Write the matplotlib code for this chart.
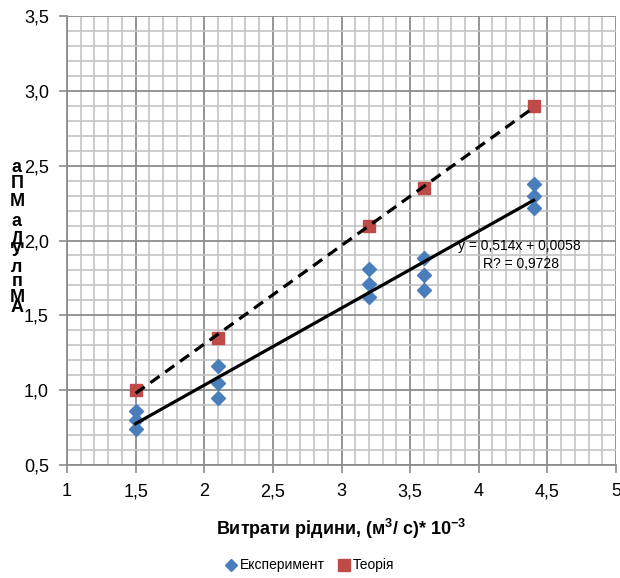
import numpy as np
import matplotlib
matplotlib.use("Agg")
import matplotlib.pyplot as plt
from matplotlib.ticker import MultipleLocator, FuncFormatter

plt.rcParams['font.family'] = ['Liberation Sans', 'DejaVu Sans']
plt.rcParams['mathtext.fontset'] = 'custom'
plt.rcParams['mathtext.rm'] = 'Liberation Sans'
plt.rcParams['mathtext.bf'] = 'Liberation Sans:bold'

# experiment: three readings at each flow rate
exp_x = [1.5, 1.5, 1.5, 2.1, 2.1, 2.1, 3.2, 3.2, 3.2, 3.6, 3.6, 3.6, 4.4, 4.4, 4.4]
exp_y = [0.86, 0.80, 0.74, 1.16, 1.05, 0.945, 1.81, 1.71, 1.62, 1.88, 1.77, 1.67, 2.38, 2.30, 2.22]

# theory
th_x = [1.5, 2.1, 3.2, 3.6, 4.4]
th_y = [1.0, 1.35, 2.1, 2.35, 2.9]

eq_text = "y = 0,514x + 0,0058"
r2_text = "R? = 0,9728"
ylabel_chars = ["а", "П", "М", "а", "Д", "у", "'", "л", "п", "М", "А"]
ylabel_ypx = [167, 183, 202, 222, 240, 248, 257, 268, 281, 297, 307]

fig = plt.figure(figsize=(6.2, 5.78), dpi=100)
ax = fig.add_axes([67/620, 1 - 465/578, (616 - 67)/620, (465 - 16)/578])

ax.set_xlim(1, 5)
ax.set_ylim(0.5, 3.5)
ax.xaxis.set_major_locator(MultipleLocator(0.5))
ax.yaxis.set_major_locator(MultipleLocator(0.5))
ax.xaxis.set_minor_locator(MultipleLocator(0.1))
ax.yaxis.set_minor_locator(MultipleLocator(0.1))
ax.grid(which='minor', color='#c4c4c4', lw=1.2, zorder=0)
ax.grid(which='major', color='#8c8c8c', lw=1.3, zorder=0)
ax.set_axisbelow(True)

fmt_x = FuncFormatter(lambda v, p: ("%g" % v).replace('.', ','))
fmt_y = FuncFormatter(lambda v, p: ("%.1f" % v).replace('.', ','))
ax.xaxis.set_major_formatter(fmt_x)
ax.yaxis.set_major_formatter(fmt_y)
ax.tick_params(which='major', length=6, width=1.2, color='#8c8c8c', labelsize=13, pad=7)
ax.tick_params(which='minor', length=0)
for s in ['top', 'right']:
    ax.spines[s].set_visible(False)
for s in ['left', 'bottom']:
    ax.spines[s].set_color('#8c8c8c')
    ax.spines[s].set_linewidth(1.3)

# trend lines
k1, b1 = np.polyfit(exp_x, exp_y, 1)
k2, b2 = np.polyfit(th_x, th_y, 1)
xx = np.array([min(th_x), max(th_x)])
ax.plot(xx, k1 * xx + b1, color='black', lw=2.3, zorder=4)
ax.plot(xx, k2 * xx + b2, color='black', lw=2.3, ls=(0, (3.5, 2.2)), zorder=4)

ax.plot(exp_x, exp_y, ls='none', marker='D', ms=7, color='#4a7ebb', zorder=3,
        label='Експеримент')
ax.plot(th_x, th_y, ls='none', marker='s', ms=9, color='#be4b48', zorder=3,
        label='Теорія')

ax.text(3.85, 1.96, eq_text, fontsize=10, ha='left', va='center', zorder=5)
ax.text(4.03, 1.84, r2_text, fontsize=10, ha='left', va='center', zorder=5)

ax.set_xlabel(r"Витрати рідини, (м$^{\mathbf{3}}$/ с)* 10$^{\mathbf{-3}}$", fontsize=13,
              fontweight='bold', labelpad=12)

for ch, ypx in zip(ylabel_chars, ylabel_ypx):
    fig.text(17/620, 1 - ypx/578, ch, fontsize=13, fontweight='bold',
             ha='center', va='center')

fig.legend(loc='lower center', bbox_to_anchor=(0.5, -0.012), ncol=2, frameon=False,
           fontsize=10, handlelength=0.7, handletextpad=0.3, columnspacing=1.0,
           markerscale=0.9)

fig.savefig("out.png", dpi=100)
